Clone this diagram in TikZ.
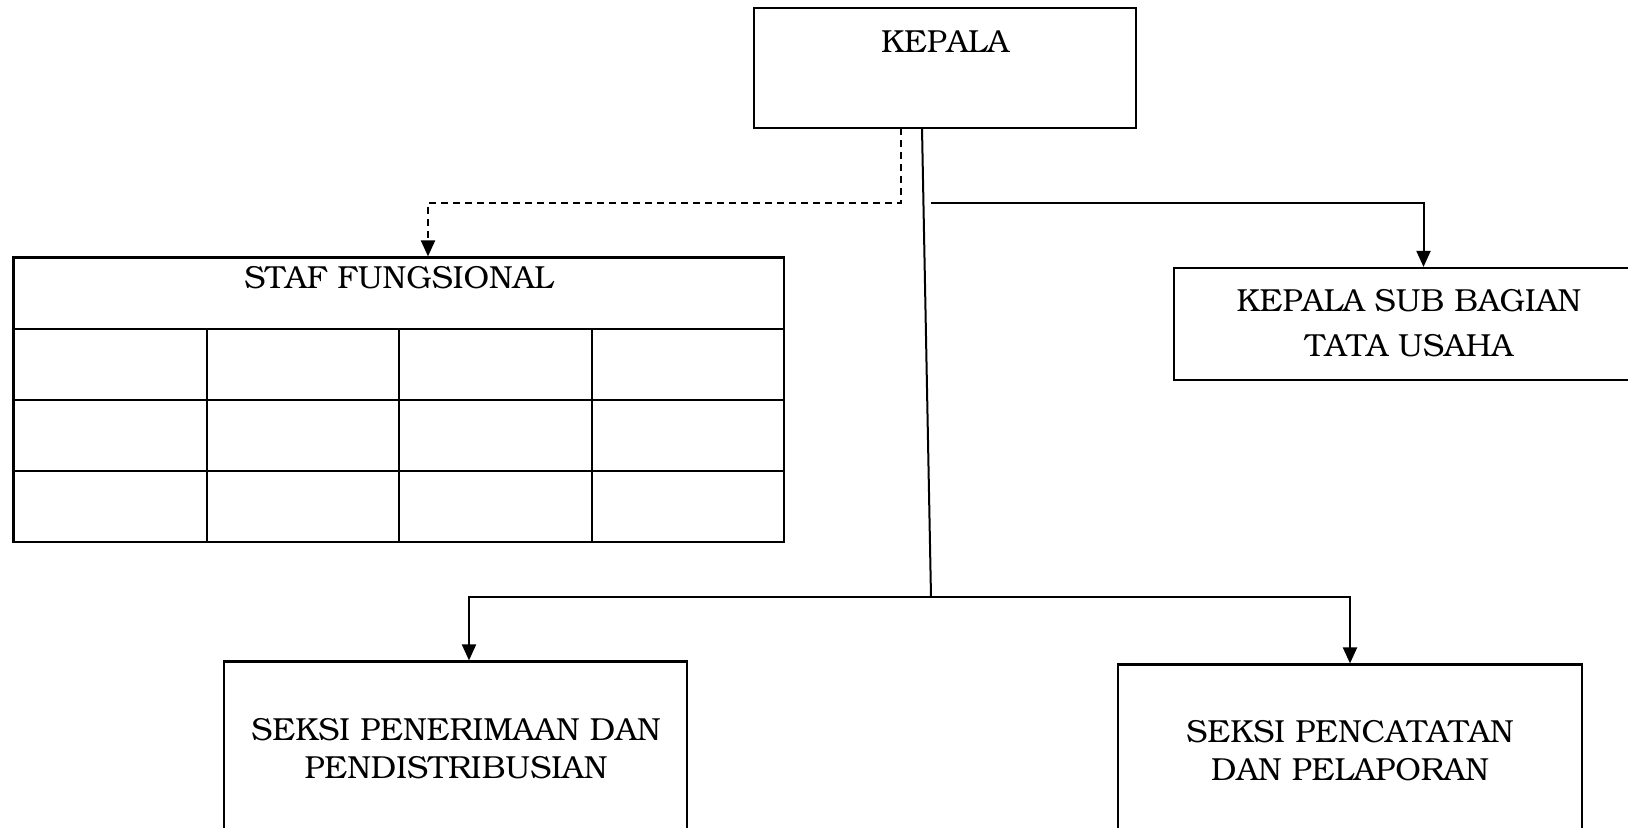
\documentclass[tikz,border=0pt]{standalone}
\usepackage[T1]{fontenc}
\usepackage{bookman}
\usetikzlibrary{arrows.meta}
\tikzset{
  box/.style={draw, line width=2.2bp, rectangle, inner sep=0pt},
  conn/.style={line width=2bp},
  arr/.style={conn, -{Triangle[length=16bp,width=14bp]}},
  dconn/.style={arr, dash pattern=on 7bp off 5bp},
  lbl/.style={anchor=base, inner sep=0pt, font=\fontsize{32}{38}\selectfont},
}
\begin{document}
\begin{tikzpicture}[x=1bp,y=-1bp]
\clip (0,0) rectangle (1628,827);
\fill[white] (0,0) rectangle (1628,827);
% boxes
\node[box, minimum width=382bp, minimum height=120bp] (kep) at (945,68) {};
\node[box, minimum width=770.5bp, minimum height=284.5bp] (staf) at (398.75,399.75) {};
\node[box, minimum width=486bp, minimum height=112bp] (ksb) at (1417,324) {};
\node[box, minimum width=463bp, minimum height=208.5bp] (spp) at (455.5,765.75) {};
\node[box, minimum width=464bp, minimum height=205.5bp] (spk) at (1350,767.25) {};
% table grid
\draw[line width=2.2bp] (13.5,329) -- (784,329);
\draw[line width=2.2bp] (13.5,400) -- (784,400);
\draw[line width=2.2bp] (13.5,471) -- (784,471);
\draw[line width=2.2bp] (206.6,329) -- (206.6,542);
\draw[line width=2.2bp] (398.7,329) -- (398.7,542);
\draw[line width=2.2bp] (591.8,329) -- (591.8,542);
% texts
\node[lbl] (tkep) at (945,52) {KEPALA};
\node[lbl] (tstaf) at (399,288) {STAF FUNGSIONAL};
\node[lbl] (tksb1) at (1409,311) {KEPALA SUB BAGIAN};
\node[lbl] (tksb2) at (1409,356) {TATA USAHA};
\node[lbl] (tspp1) at (456,740) {SEKSI PENERIMAAN DAN};
\node[lbl] (tspp2) at (456,778) {PENDISTRIBUSIAN};
\node[lbl] (tspk1) at (1350,742) {SEKSI PENCATATAN};
\node[lbl] (tspk2) at (1350,780) {DAN PELAPORAN};
% connector coordinates
\coordinate (dtop) at (901,128);
\coordinate (dcorner) at (901,202.5);
\coordinate (dx) at (428,0);
\coordinate (stop) at (922,128);
\coordinate (sbot) at (931,597);
\coordinate (rstart) at (931,202.5);
\coordinate (rx) at (1423.5,0);
\coordinate (lx) at (469,0);
\coordinate (kx) at (1350,0);
% connectors
\draw[dconn] (dtop) -- (dcorner) -| (staf.north -| dx);
\draw[conn] (stop) -- (sbot);
\draw[arr] (rstart) -| (ksb.north -| rx);
\draw[arr] (sbot) -| (spp.north -| lx);
\draw[arr] (sbot) -| (spk.north -| kx);
\end{tikzpicture}
\end{document}
